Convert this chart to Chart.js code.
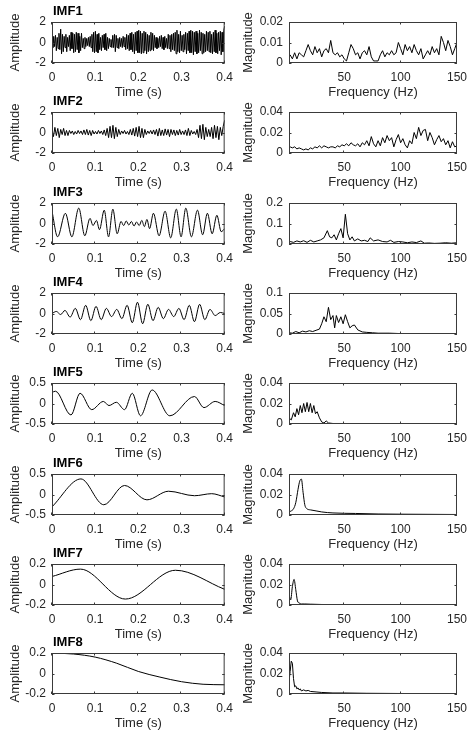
<!DOCTYPE html>
<html>
<head>
<meta charset="utf-8">
<title>IMF components and spectra</title>
<script src="https://cdn.jsdelivr.net/npm/chart.js@4"></script>
<style>
  html, body { margin: 0; padding: 0; background: #fff; }
  #page { position: relative; width: 474px; height: 736px; overflow: hidden; }
  canvas { position: absolute; }
</style>
</head>
<body>
<div id="page"></div>
<script>
const FONT = "'Liberation Sans', Arial, sans-serif";
const INK = '#262626';

// axis ticks
const timeTicks = [0, 0.1, 0.2, 0.3, 0.4];
const freqTicks = [50, 100, 150];
const imfNames = ['IMF1', 'IMF2', 'IMF3', 'IMF4', 'IMF5', 'IMF6', 'IMF7', 'IMF8'];
const ampTicks = [[-2, 0, 2], [-2, 0, 2], [-2, 0, 2], [-2, 0, 2], [-0.5, 0, 0.5], [-0.5, 0, 0.5], [-0.2, 0, 0.2], [-0.2, 0, 0.2]];
const magTicks = [[0, 0.01, 0.02], [0, 0.02, 0.04], [0, 0.1, 0.2], [0, 0.05, 0.1], [0, 0.02, 0.04], [0, 0.02, 0.04], [0, 0.02, 0.04], [0, 0.02, 0.04]];

// IMF1 / IMF2: evenly sampled over 0..0.4 s
const imf1 = [
  0.3,-0.5,0.6,-0.4,0.7,-0.8,0.5,-0.6,0.9,-0.7,1.3,-1.1,0.8,-0.9,0.6,-0.5,0.8,-0.9,0.5,-0.4,
  0.7,-0.8,1.0,-0.6,0.9,-1.0,0.8,-0.9,1.0,-0.7,0.9,-1.0,0.6,-0.8,0.9,-0.5,0.4,-0.6,0.5,-0.4,
  0.4,-0.3,0.5,-0.4,0.6,-0.5,0.8,-0.9,1.0,-1.0,1.1,-0.9,0.8,-1.0,0.9,-0.7,0.5,-0.8,0.7,-0.5,
  0.8,-0.7,0.9,-0.8,0.5,-0.6,0.4,-0.4,0.3,-0.5,0.7,-0.5,0.8,-0.9,0.7,-0.5,0.4,-0.6,0.5,-0.4,
  0.4,-0.5,0.6,-0.4,0.5,-0.7,0.8,-0.6,0.7,-0.8,0.9,-0.7,1.0,-0.9,0.8,-1.1,1.0,-0.8,1.1,-1.0,
  1.2,-1.0,1.1,-1.1,0.9,-1.0,1.1,-0.8,1.0,-1.1,0.8,-0.9,0.7,-0.8,1.0,-0.7,0.9,-0.8,0.7,-0.5,
  0.5,-0.6,0.4,-0.5,0.6,-0.4,0.7,-0.6,0.5,-0.7,0.6,-0.5,0.4,-0.6,0.8,-0.6,0.7,-0.9,0.8,-0.7,
  0.9,-0.8,1.0,-1.1,1.2,-0.9,0.8,-1.0,1.1,-0.8,0.7,-0.9,0.8,-0.7,1.0,-1.1,0.9,-0.8,1.1,-1.0,
  1.2,-1.0,1.1,-1.2,1.0,-0.9,1.1,-1.1,0.9,-1.0,1.2,-0.8,1.0,-1.1,0.9,-1.0,0.8,-0.9,1.1,-0.8,
  1.0,-0.9,1.1,-1.0,0.8,-1.1,1.0,-0.9,1.2,-1.0,0.9,-1.1,1.0,-0.8,1.1,-1.2,1.0,-0.9,1.2,1.6
];
const imf2 = [
  0.3,-0.4,0.5,-0.3,0.4,-0.5,0.3,-0.2,0.4,-0.3,0.2,-0.3,
  0.2,-0.1,0.15,-0.2,0.1,-0.15,0.2,-0.1,0.15,-0.2,0.25,-0.2,
  0.3,-0.25,0.2,-0.3,0.2,-0.15,0.1,-0.15,0.2,-0.1,0.15,-0.2,
  0.25,-0.3,0.4,-0.5,0.6,-0.5,0.7,-0.6,0.5,-0.4,0.3,-0.2,
  0.15,-0.1,0.2,-0.15,0.1,-0.2,0.3,-0.25,0.4,-0.35,0.5,-0.4,
  0.6,-0.5,0.4,-0.5,0.3,-0.2,0.15,-0.1,0.2,-0.15,0.25,-0.2,
  0.3,-0.35,0.4,-0.3,0.25,-0.3,0.35,-0.25,0.3,-0.4,0.3,-0.2,
  0.25,-0.3,0.2,-0.25,0.3,-0.2,0.15,-0.2,0.25,-0.3,0.4,-0.3,
  0.2,-0.15,0.1,-0.2,0.3,-0.5,0.7,-0.6,0.8,-0.7,0.5,-0.4,
  0.3,-0.4,0.5,-0.6,0.7,-0.5,0.6,-0.7,0.5,-0.3,0.6,1.2
];

// IMF3..IMF8: turning points (time s, amplitude)
const imf3T = [0,0.013,0.031,0.046,0.062,0.076,0.088,0.095,0.103,0.110,0.121,0.131,0.141,0.151,0.160,0.166,0.172,0.178,0.184,0.19,
  0.196,0.202,0.208,0.214,0.22,0.226,0.235,0.248,0.262,0.275,0.288,0.299,0.31,0.323,0.337,0.349,0.36,0.371,0.382,0.392,0.4];
const imf3V = [1.2,-1.3,1.0,-1.3,1.5,-1.2,0.5,-0.2,0.3,-0.6,1.3,-1.3,1.4,-1.0,0.2,-0.2,0.25,-0.15,0.2,-0.25,
  0.15,-0.2,0.3,-0.3,0.4,-0.5,1.0,-1.2,1.2,-1.4,1.4,-1.3,1.5,-1.3,1.3,-1.1,1.0,-1.0,0.8,-0.8,-0.5];
const imf4T = [0,0.01,0.02,0.03,0.042,0.054,0.066,0.078,0.09,0.102,0.114,0.126,0.138,0.15,0.162,0.174,0.186,0.198,0.21,0.222,
  0.234,0.246,0.258,0.27,0.282,0.294,0.306,0.318,0.33,0.342,0.354,0.366,0.378,0.39,0.4];
const imf4V = [0,0.2,-0.1,0.3,-0.35,0.5,-0.6,0.8,-0.7,0.7,-0.6,0.5,-0.3,0.4,-0.5,0.8,-0.9,1.1,-1.0,0.9,
  -0.7,0.6,-0.5,0.4,-0.3,0.5,-0.6,0.8,-0.8,0.9,-0.6,0.4,-0.2,0.1,0];
const imf5T = [0,0.008,0.044,0.065,0.092,0.119,0.132,0.149,0.168,0.186,0.205,0.232,0.273,0.33,0.352,0.378,0.4];
const imf5V = [0.27,0.3,-0.28,0.25,-0.15,0.05,-0.05,0.03,-0.15,0.25,-0.3,0.33,-0.3,0.17,-0.1,0.05,-0.05];
const imf6T = [0,0.067,0.12,0.168,0.22,0.27,0.33,0.37,0.4];
const imf6V = [-0.3,0.38,-0.25,0.22,-0.13,0.08,-0.03,0.02,-0.06];
const imf7T = [0,0.066,0.17,0.286,0.4];
const imf7V = [0.078,0.15,-0.142,0.139,-0.047];
const imf8T = [0,0.05,0.1,0.15,0.2,0.25,0.3,0.35,0.4];
const imf8V = [0.2,0.19,0.16,0.1,0.02,-0.035,-0.08,-0.105,-0.11];

// spectra of IMF1 / IMF2: 2 Hz bins from 2 to 150 Hz
const spec1 = [
  0.004,0.002,0.005,0.002,0.005,0.004,0.003,0.006,0.009,0.006,0.004,0.008,0.005,0.007,0.003,0.006,0.007,0.005,0.011,0.005,
  0.004,0.005,0.003,0.004,0.002,0.001,0.005,0.009,0.007,0.004,0.005,0.002,0.005,0.006,0.004,0.008,0.003,0.001,0.001,0.001,
  0.004,0.006,0.003,0.005,0.004,0.006,0.004,0.005,0.010,0.007,0.004,0.009,0.006,0.008,0.005,0.009,0.006,0.004,0.007,0.002,
  0.004,0.006,0.004,0.008,0.005,0.007,0.004,0.013,0.010,0.006,0.011,0.008,0.004,0.007,0.010
];
const spec2 = [
  0.006,0.005,0.006,0.004,0.005,0.004,0.003,0.004,0.003,0.005,
  0.004,0.006,0.005,0.007,0.005,0.007,0.006,0.005,0.006,0.006,
  0.005,0.007,0.006,0.008,0.007,0.009,0.007,0.010,0.008,0.007,
  0.009,0.006,0.010,0.008,0.012,0.007,0.016,0.009,0.006,0.012,
  0.007,0.015,0.010,0.017,0.012,0.015,0.006,0.013,0.018,0.010,
  0.014,0.008,0.005,0.012,0.009,0.020,0.014,0.025,0.017,0.022,
  0.023,0.012,0.020,0.015,0.008,0.013,0.017,0.011,0.014,0.008,
  0.012,0.005,0.011,0.006,0.007
];

// spectra of IMF3..IMF8: (frequency Hz, magnitude)
const spec3F = [2,5,8,11,14,17,20,23,26,29,32,35,37,39,41,43,45,47,49,51,53,55,57,59,62,65,68,71,73,76,
  80,84,88,91,94,98,102,106,110,114,118,121,125,130,135,140,145,150];
const spec3V = [0.012,0.008,0.015,0.010,0.016,0.008,0.018,0.010,0.015,0.020,0.030,0.065,0.035,0.030,0.045,0.020,0.050,0.075,0.030,0.145,
  0.050,0.020,0.035,0.015,0.025,0.015,0.018,0.012,0.030,0.015,0.020,0.012,0.010,0.018,0.008,0.012,0.010,0.006,0.010,0.007,
  0.015,0.004,0.005,0.003,0.004,0.006,0.004,0.006];
const spec4F = [1,4,7,10,13,16,19,22,25,28,30,32,34,36,38,40,41.5,43,45,47,49,51,53,55,57,59,62,66,70,75,80,90,100,115,130,150];
const spec4V = [0.003,0.002,0.006,0.003,0.007,0.005,0.008,0.006,0.009,0.012,0.025,0.042,0.030,0.065,0.035,0.045,0.015,0.045,0.028,0.042,
  0.025,0.047,0.030,0.015,0.020,0.022,0.010,0.005,0.004,0.003,0.002,0.002,0.001,0.001,0.001,0.001];
const spec5F = [1,3,5,6.5,8,9.5,11,12.5,14,15.5,17,18.5,20,21.5,23,24.5,26,28,30,32,34,36,40,50,70,100,150];
const spec5V = [0.006,0.004,0.011,0.007,0.015,0.009,0.018,0.011,0.020,0.012,0.021,0.012,0.020,0.011,0.018,0.010,0.012,0.006,0.002,0.001,
  0.003,0.001,0.0005,0.0005,0.0003,0.0003,0.0003];
const spec6F = [1,3,5,7,9,10.5,12,13.5,15,17,20,25,30,40,60,80,100,150];
const spec6V = [0.003,0.004,0.006,0.012,0.025,0.033,0.035,0.022,0.010,0.006,0.005,0.004,0.003,0.002,0.0015,0.001,0.0008,0.0005];
const spec7F = [1,2.5,4,5.5,7,8.5,10,12,15,20,30,50,100,150];
const spec7V = [0.010,0.005,0.018,0.025,0.015,0.004,0.002,0.001,0.001,0.0008,0.0005,0.0003,0.0002,0.0002];
const spec8F = [1,2,3,4,5,6,7,8,9,10,11,12,14,16,18,20,25,30,40,50,70,100,150];
const spec8V = [0.012,0.022,0.032,0.030,0.015,0.007,0.008,0.005,0.006,0.004,0.005,0.003,0.004,0.003,0.0035,0.0025,0.002,0.0015,0.001,0.001,
  0.0007,0.0005,0.0003];

const sampleTimes = arr => arr.map((_, i) => i * 0.4 / (arr.length - 1));
const binFreqs = arr => arr.map((_, i) => 2 + 2 * i);

const waves = [
  [sampleTimes(imf1), imf1, false],
  [sampleTimes(imf2), imf2, false],
  [imf3T, imf3V, true],
  [imf4T, imf4V, true],
  [imf5T, imf5V, true],
  [imf6T, imf6V, true],
  [imf7T, imf7V, true],
  [imf8T, imf8V, true]
];
const spectra = [
  [binFreqs(spec1), spec1, false],
  [binFreqs(spec2), spec2, false],
  [spec3F, spec3V, false],
  [spec4F, spec4V, false],
  [spec5F, spec5V, false],
  [spec6F, spec6V, true],
  [spec7F, spec7V, true],
  [spec8F, spec8V, false]
];

// top edge of every plot box in the page
const ROW_TOP = [22, 112, 203, 293, 383, 474, 564, 653];
const page = document.getElementById('page');

function addCanvas(left, top, w, h) {
  const c = document.createElement('canvas');
  c.width = w;
  c.height = h;
  c.style.left = left + 'px';
  c.style.top = top + 'px';
  c.style.width = w + 'px';
  c.style.height = h + 'px';
  page.appendChild(c);
  return c;
}

function fixedTicks(values) {
  return scale => { scale.ticks = values.map(v => ({ value: v })); };
}

// MATLAB style box with inward ticks, plus the bold panel label
const matlabBox = {
  id: 'matlabBox',
  afterDraw(chart, args, opts) {
    const { ctx, chartArea: a, scales: { x, y } } = chart;
    const tl = 2.5;
    ctx.save();
    ctx.strokeStyle = '#3a3a3a';
    ctx.lineWidth = 1;
    ctx.strokeRect(a.left + 0.5, a.top + 0.5, a.right - a.left - 1, a.bottom - a.top - 1);
    ctx.beginPath();
    x.ticks.forEach(t => {
      const px = Math.round(x.getPixelForValue(t.value)) - 0.5;
      ctx.moveTo(px, a.bottom); ctx.lineTo(px, a.bottom - tl);
      ctx.moveTo(px, a.top); ctx.lineTo(px, a.top + tl);
    });
    y.ticks.forEach(t => {
      const py = Math.round(y.getPixelForValue(t.value)) + 0.5;
      ctx.moveTo(a.left, py); ctx.lineTo(a.left + tl, py);
      ctx.moveTo(a.right, py); ctx.lineTo(a.right - tl, py);
    });
    ctx.stroke();
    if (opts.label) {
      ctx.fillStyle = '#000';
      ctx.font = 'bold 13px ' + FONT;
      ctx.textBaseline = 'middle';
      ctx.textAlign = 'left';
      ctx.fillText(opts.label, a.left + 1, a.top - 11);
    }
    ctx.restore();
  }
};

function panel(cfg) {
  const canvas = addCanvas(cfg.left, ROW_TOP[cfg.row] - 22, cfg.width, 100);
  const points = cfg.xs.map((x, i) => ({ x: x, y: cfg.ys[i] }));
  const tickFont = { family: FONT, size: 12 };
  const titleFont = { family: FONT, size: 13 };
  new Chart(canvas, {
    type: 'line',
    data: {
      datasets: [{
        data: points,
        borderColor: '#000',
        borderWidth: 1,
        pointRadius: 0,
        fill: false,
        tension: 0,
        cubicInterpolationMode: cfg.smooth ? 'monotone' : 'default'
      }]
    },
    options: {
      responsive: false,
      animation: false,
      events: [],
      layout: { padding: { left: 0, right: cfg.padRight, top: 22, bottom: 0 } },
      plugins: {
        legend: { display: false },
        tooltip: { enabled: false },
        matlabBox: { label: cfg.label }
      },
      scales: {
        x: {
          type: 'linear',
          min: cfg.xMin,
          max: cfg.xMax,
          afterBuildTicks: fixedTicks(cfg.xTicks),
          afterFit: s => { s.height = 37; },
          grid: { display: false, drawTicks: false },
          border: { display: false },
          ticks: { padding: 7, color: INK, font: tickFont, maxRotation: 0, autoSkip: false, callback: v => String(v) },
          title: { display: true, text: cfg.xTitle, color: INK, font: titleFont, padding: { top: 0, bottom: 0 } }
        },
        y: {
          type: 'linear',
          min: cfg.yTicks[0],
          max: cfg.yTicks[cfg.yTicks.length - 1],
          afterBuildTicks: fixedTicks(cfg.yTicks),
          afterFit: s => { s.width = cfg.yWidth; },
          grid: { display: false, drawTicks: false },
          border: { display: false },
          ticks: { padding: 6, color: INK, font: tickFont, autoSkip: false, callback: v => String(v) },
          title: { display: true, text: cfg.yTitle, color: INK, font: titleFont, padding: { top: cfg.yTitlePad, bottom: 0 } }
        }
      }
    },
    plugins: [matlabBox]
  });
}

for (let r = 0; r < 8; r++) {
  panel({
    row: r, left: 0, width: 240, padRight: 10, yWidth: 52, yTitlePad: 8,
    label: imfNames[r],
    xs: waves[r][0], ys: waves[r][1], smooth: waves[r][2],
    xMin: 0, xMax: 0.4, xTicks: timeTicks, xTitle: 'Time (s)',
    yTicks: ampTicks[r], yTitle: 'Amplitude'
  });
  panel({
    row: r, left: 240, width: 234, padRight: 9, yWidth: 49, yTitlePad: 1,
    label: null,
    xs: spectra[r][0], ys: spectra[r][1], smooth: spectra[r][2],
    xMin: 1, xMax: 150, xTicks: freqTicks, xTitle: 'Frequency (Hz)',
    yTicks: magTicks[r], yTitle: 'Magnitude'
  });
}
</script>
</body>
</html>
